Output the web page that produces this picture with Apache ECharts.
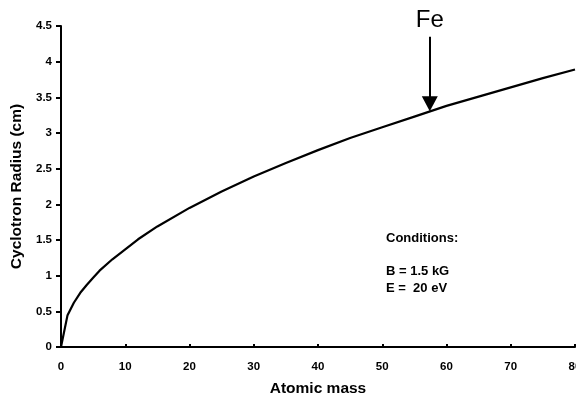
<!DOCTYPE html>
<html>
<head>
<meta charset="utf-8">
<script src="https://cdn.jsdelivr.net/npm/echarts@6/dist/echarts.min.js"></script>
<style>
  html, body { margin: 0; padding: 0; background: #fff; }
  #chart { width: 576px; height: 398px; }
</style>
</head>
<body>
<div id="chart"></div>
<script>
// Atomic mass (amu) vs cyclotron radius (cm)
const masses = [0, 1, 2, 3, 4, 5, 6, 8, 10, 12, 15, 20, 25, 30, 35, 40, 45, 50, 55, 60, 65, 70, 75, 80];
const radii = [0, 0.44, 0.62, 0.76, 0.87, 0.97, 1.07, 1.23, 1.37, 1.51, 1.69, 1.95, 2.18, 2.39,
  2.58, 2.76, 2.93, 3.08, 3.23, 3.38, 3.51, 3.64, 3.77, 3.89];

// Fe annotation arrow: mass position, arrow top and tip (radius units)
const feMass = 57.4;
const feArrowTop = 4.35;
const feArrowTip = 3.31;

const conditionLines = ['Conditions:', '', 'B = 1.5 kG', 'E =  20 eV'];

const FONT = '"Liberation Sans", Arial, sans-serif';

const chart = echarts.init(document.getElementById('chart'));

const option = {
  backgroundColor: '#ffffff',
  animation: false,
  grid: { left: 61, right: 1, top: 26, bottom: 51, containLabel: false, outerBoundsMode: 'none' },
  xAxis: {
    type: 'value',
    min: 0,
    max: 80,
    interval: 10,
    name: 'Atomic mass',
    nameLocation: 'middle',
    nameGap: 34,
    nameTextStyle: { color: '#000', fontFamily: FONT, fontWeight: 'bold', fontSize: 15.5 },
    axisLine: { onZero: false, lineStyle: { color: '#000', width: 2 } },
    axisTick: { inside: true, length: 3, lineStyle: { color: '#000', width: 2 } },
    axisLabel: { color: '#000', fontFamily: FONT, fontWeight: 'bold', fontSize: 11.5, margin: 14 },
    splitLine: { show: false },
  },
  yAxis: {
    type: 'value',
    min: 0,
    max: 4.5,
    interval: 0.5,
    name: 'Cyclotron Radius (cm)',
    nameLocation: 'middle',
    nameGap: 33,
    nameTextStyle: { color: '#000', fontFamily: FONT, fontWeight: 'bold', fontSize: 15.5 },
    axisLine: { show: true, lineStyle: { color: '#000', width: 2 } },
    axisTick: { show: true, length: 5, lineStyle: { color: '#000', width: 2 } },
    axisLabel: { color: '#000', fontFamily: FONT, fontWeight: 'bold', fontSize: 11.5, margin: 9 },
    splitLine: { show: false },
  },
  series: [
    {
      type: 'line',
      data: masses.map((m, i) => [m, radii[i]]),
      symbol: 'none',
      smooth: false,
      lineStyle: { color: '#000', width: 2.2 },
      markLine: {
        silent: true,
        symbol: ['none', 'triangle'],
        symbolSize: [16, 15],
        lineStyle: { color: '#000', width: 2, type: 'solid' },
        label: {
          show: true,
          position: 'start',
          formatter: 'Fe',
          color: '#000',
          fontFamily: FONT,
          fontSize: 24,
          distance: 4,
        },
        data: [[
          { coord: [feMass, feArrowTop] },
          { coord: [feMass, feArrowTip + 0.1] },
        ]],
      },
    },
  ],
  graphic: [
    {
      type: 'text',
      left: 386,
      top: 230,
      style: {
        text: conditionLines.join('\n'),
        fill: '#000',
        font: 'bold 13px ' + FONT,
        lineHeight: 16.7,
      },
    },
  ],
};

chart.setOption(option);
</script>
</body>
</html>
